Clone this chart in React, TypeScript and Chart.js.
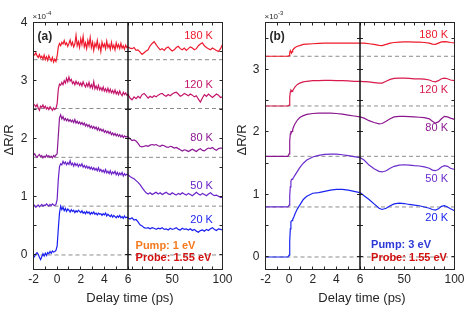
import React, { useEffect, useRef } from 'react';
import { Chart, registerables } from 'chart.js';

Chart.register(...registerables);

const FONT = '"Liberation Sans", Arial, Helvetica, sans-serif';
const INK = '#262626';

// ---------- shared ----------
const temps = ['20 K', '50 K', '80 K', '120 K', '180 K'];
const colorsA = ['#1a1ff0', '#6a22c8', '#8c1896', '#c4156a', '#ee1a2e'];
const colorsB = ['#1a24f0', '#6a2ccc', '#8c1890', '#d81a4c', '#ee1a2a'];
const xLeftLabels = [-2, 0, 2, 4, 6];
const xRightLabels = [50, 100];
const xTitle = 'Delay time (ps)';
const yTitle = 'ΔR/R';

// ---------- panel (a): values in units of 1e-4 ----------
const tAL = [-2, -1.9, -1.8, -1.7, -1.6, -1.5, -1.4, -1.3, -1.2, -1.1, -1, -0.9, -0.8, -0.7, -0.6, -0.5, -0.4, -0.3, -0.2, -0.1,
  0, 0.1, 0.2, 0.3, 0.4, 0.5, 0.6, 0.7, 0.8, 0.9, 1, 1.1, 1.2, 1.3, 1.4, 1.5, 1.6, 1.7, 1.8, 1.9,
  2, 2.1, 2.2, 2.3, 2.4, 2.5, 2.6, 2.7, 2.8, 2.9, 3, 3.1, 3.2, 3.3, 3.4, 3.5, 3.6, 3.7, 3.8, 3.9,
  4, 4.1, 4.2, 4.3, 4.4, 4.5, 4.6, 4.7, 4.8, 4.9, 5, 5.1, 5.2, 5.3, 5.4, 5.5, 5.6, 5.7, 5.8, 5.9, 6];
const tAR = [6, 8, 10, 12, 14, 16, 18, 20, 22, 24, 26, 28, 30, 32, 34, 36, 38, 40, 42, 44, 46, 48, 50, 52,
  54, 56, 58, 60, 62, 64, 66, 68, 70, 72, 74, 76, 78, 80, 82, 84, 86, 88, 90, 92, 94, 96, 98, 100];

const a20L = [-0.05, -0.02, 0.02, 0.04, 0.01, -0.04, -0.08, -0.03, 0.02, -0.02, 0.03, -0.01, 0.04, 0.02, 0.06, 0.03, 0.07, 0.05, 0.06, 0.08,
  0.15, 0.45, 0.72, 0.84, 0.78, 0.82, 0.76, 0.80, 0.75, 0.79, 0.77, 0.74, 0.78, 0.75, 0.77, 0.73, 0.76, 0.74, 0.77, 0.75,
  0.73, 0.76, 0.72, 0.74, 0.71, 0.75, 0.72, 0.74, 0.70, 0.73, 0.71, 0.74, 0.70, 0.72, 0.69, 0.72, 0.70, 0.71, 0.68, 0.71,
  0.69, 0.72, 0.67, 0.70, 0.68, 0.66, 0.69, 0.65, 0.68, 0.66, 0.64, 0.67, 0.65, 0.68, 0.64, 0.66, 0.63, 0.67, 0.64, 0.65, 0.64];
const a20R = [0.64, 0.62, 0.64, 0.60, 0.61, 0.57, 0.52, 0.50, 0.47, 0.46, 0.47, 0.45, 0.47, 0.46, 0.44, 0.46, 0.45, 0.47, 0.44, 0.45,
  0.43, 0.46, 0.44, 0.45, 0.47, 0.44, 0.43, 0.46, 0.44, 0.45, 0.43, 0.45, 0.42, 0.44, 0.41, 0.39, 0.42, 0.43, 0.41, 0.44,
  0.42, 0.45, 0.47, 0.44, 0.42, 0.45, 0.44, 0.43];

const a50L = [0.87, 0.85, 0.82, 0.84, 0.86, 0.83, 0.85, 0.87, 0.84, 0.86, 0.85, 0.88, 0.86, 0.84, 0.87, 0.85, 0.88, 0.86, 0.85, 0.87,
  0.95, 1.30, 1.52, 1.57, 1.55, 1.61, 1.57, 1.60, 1.55, 1.59, 1.56, 1.62, 1.55, 1.58, 1.53, 1.58, 1.54, 1.57, 1.52, 1.56,
  1.53, 1.57, 1.51, 1.54, 1.50, 1.53, 1.49, 1.52, 1.48, 1.51, 1.47, 1.50, 1.46, 1.49, 1.45, 1.50, 1.44, 1.47, 1.43, 1.46,
  1.42, 1.47, 1.41, 1.44, 1.40, 1.45, 1.39, 1.43, 1.40, 1.44, 1.38, 1.42, 1.37, 1.41, 1.38, 1.42, 1.36, 1.40, 1.37, 1.39, 1.38];
const a50R = [1.38, 1.35, 1.33, 1.31, 1.28, 1.25, 1.21, 1.16, 1.11, 1.07, 1.05, 1.07, 1.04, 1.06, 1.08, 1.05, 1.07, 1.04, 1.06, 1.08,
  1.05, 1.04, 1.07, 1.05, 1.03, 1.06, 1.04, 1.07, 1.05, 1.03, 1.06, 1.04, 1.02, 1.05, 1.08, 1.05, 1.03, 1.06, 1.04, 1.02,
  1.05, 1.07, 1.04, 1.02, 1.03, 1.01, 0.99, 0.99];

const a80L = [1.72, 1.74, 1.70, 1.68, 1.71, 1.73, 1.69, 1.71, 1.67, 1.70, 1.68, 1.72, 1.69, 1.71, 1.68, 1.70, 1.67, 1.71, 1.69, 1.72,
  1.74, 2.05, 2.36, 2.41, 2.34, 2.38, 2.32, 2.35, 2.31, 2.34, 2.30, 2.33, 2.29, 2.32, 2.28, 2.33, 2.27, 2.30, 2.26, 2.29,
  2.25, 2.28, 2.24, 2.27, 2.22, 2.25, 2.21, 2.24, 2.19, 2.22, 2.18, 2.21, 2.17, 2.20, 2.15, 2.19, 2.14, 2.17, 2.13, 2.16,
  2.11, 2.14, 2.10, 2.13, 2.09, 2.12, 2.07, 2.10, 2.06, 2.09, 2.05, 2.08, 2.04, 2.07, 2.03, 2.06, 2.02, 2.05, 2.03, 2.04, 2.03];
const a80R = [2.03, 2.00, 1.97, 1.98, 1.96, 1.92, 1.87, 1.86, 1.87, 1.88, 1.87, 1.89, 1.90, 1.89, 1.90, 1.88, 1.87, 1.89, 1.88, 1.86,
  1.85, 1.87, 1.86, 1.84, 1.85, 1.83, 1.81, 1.79, 1.81, 1.80, 1.78, 1.80, 1.82, 1.80, 1.78, 1.81, 1.83, 1.80, 1.79, 1.82,
  1.84, 1.83, 1.85, 1.82, 1.80, 1.83, 1.84, 1.84];

const a120L = [2.60, 2.58, 2.55, 2.59, 2.53, 2.49, 2.56, 2.54, 2.58, 2.53, 2.56, 2.51, 2.54, 2.50, 2.55, 2.52, 2.49, 2.53, 2.50, 2.52,
  2.60, 2.85, 2.94, 2.92, 2.97, 2.93, 3.00, 2.96, 3.04, 2.98, 3.06, 2.99, 3.02, 2.95, 2.98, 2.93, 2.99, 2.94, 2.97, 2.92,
  2.96, 2.91, 2.98, 2.93, 2.89, 2.95, 2.90, 2.97, 2.88, 2.93, 2.87, 2.98, 2.86, 2.91, 2.85, 2.92, 2.84, 2.88, 2.83, 2.89,
  2.82, 2.86, 2.81, 2.87, 2.80, 2.85, 2.79, 2.83, 2.78, 2.84, 2.77, 2.81, 2.76, 2.82, 2.77, 2.74, 2.80, 2.76, 2.79, 2.75, 2.77];
const a120R = [2.77, 2.70, 2.67, 2.72, 2.69, 2.73, 2.70, 2.76, 2.78, 2.74, 2.70, 2.73, 2.71, 2.74, 2.72, 2.75, 2.77, 2.78, 2.75, 2.73,
  2.76, 2.74, 2.77, 2.79, 2.80, 2.77, 2.73, 2.75, 2.78, 2.76, 2.74, 2.77, 2.75, 2.72, 2.74, 2.68, 2.63, 2.70, 2.76, 2.73,
  2.77, 2.74, 2.71, 2.74, 2.77, 2.75, 2.71, 2.72];

const a180L = [3.46, 3.44, 3.48, 3.43, 3.40, 3.45, 3.39, 3.42, 3.37, 3.44, 3.36, 3.41, 3.35, 3.43, 3.38, 3.34, 3.40, 3.32, 3.37, 3.33,
  3.42, 3.58, 3.64, 3.60, 3.66, 3.63, 3.69, 3.62, 3.65, 3.59, 3.64, 3.70, 3.61, 3.66, 3.58, 3.63, 3.78, 3.60, 3.67, 3.57,
  3.72, 3.62, 3.76, 3.58, 3.65, 3.55, 3.69, 3.60, 3.74, 3.57, 3.66, 3.52, 3.64, 3.58, 3.69, 3.55, 3.62, 3.50, 3.66, 3.58,
  3.63, 3.55, 3.68, 3.57, 3.62, 3.54, 3.66, 3.56, 3.61, 3.53, 3.65, 3.57, 3.62, 3.55, 3.64, 3.56, 3.60, 3.54, 3.61, 3.57, 3.59];
const a180R = [3.58, 3.56, 3.55, 3.57, 3.52, 3.53, 3.49, 3.45, 3.48, 3.51, 3.53, 3.60, 3.64, 3.67, 3.62, 3.57, 3.53, 3.55, 3.52, 3.56,
  3.58, 3.54, 3.51, 3.53, 3.57, 3.59, 3.55, 3.53, 3.56, 3.52, 3.55, 3.58, 3.56, 3.53, 3.55, 3.60, 3.63, 3.65, 3.60, 3.57,
  3.55, 3.53, 3.56, 3.54, 3.52, 3.50, 3.55, 3.62];

const baselinesA = [0, 0.84, 1.68, 2.52, 3.36];
const labelYA = [0.60, 1.19, 2.01, 2.93, 3.77];
const yLabelsA = [0, 1, 2, 3, 4];

// ---------- panel (b): values in units of 1e-3 ----------
const tBL = [-2, -1, -0.5, -0.1, 0, 0.05, 0.1, 0.15, 0.2, 0.25, 0.3, 0.4, 0.5, 0.7, 0.9, 1.2, 1.5, 2, 2.5, 3, 3.5, 4, 4.5, 5, 5.5, 6];
const tBR = [6, 10, 15, 20, 25, 28, 32, 36, 40, 45, 50, 55, 60, 65, 70, 75, 78, 81, 84, 87, 90, 93, 96, 100];

const b20L = [0, 0, 0, 0, 0.03, 0.25, 0.45, 0.56, 0.58, 0.58, 0.60, 0.64, 0.69, 0.77, 0.83, 0.92, 0.97, 1.02, 1.03, 1.05, 1.07, 1.08, 1.08, 1.07, 1.05, 1.03];
const b20R = [1.03, 0.98, 0.92, 0.85, 0.78, 0.76, 0.78, 0.82, 0.85, 0.86, 0.855, 0.84, 0.83, 0.82, 0.80, 0.78, 0.76, 0.75, 0.77, 0.81, 0.82, 0.80, 0.77, 0.74];
const b50L = [0.8, 0.8, 0.8, 0.8, 0.83, 0.98, 1.12, 1.21, 1.24, 1.24, 1.25, 1.28, 1.31, 1.37, 1.43, 1.50, 1.55, 1.60, 1.625, 1.64, 1.645, 1.645, 1.635, 1.62, 1.605, 1.59];
const b50R = [1.59, 1.55, 1.47, 1.41, 1.37, 1.36, 1.38, 1.42, 1.45, 1.47, 1.475, 1.47, 1.46, 1.455, 1.44, 1.42, 1.39, 1.38, 1.40, 1.44, 1.46, 1.45, 1.42, 1.40];
const b80L = [1.61, 1.61, 1.61, 1.61, 1.65, 1.85, 1.97, 2.0, 1.99, 2.01, 2.04, 2.09, 2.13, 2.19, 2.23, 2.26, 2.28, 2.295, 2.30, 2.30, 2.30, 2.295, 2.285, 2.27, 2.255, 2.24];
const b80R = [2.24, 2.22, 2.18, 2.15, 2.13, 2.135, 2.17, 2.21, 2.24, 2.25, 2.25, 2.245, 2.24, 2.235, 2.23, 2.21, 2.17, 2.14, 2.16, 2.21, 2.25, 2.24, 2.22, 2.20];
const b120L = [2.415, 2.415, 2.415, 2.415, 2.43, 2.55, 2.64, 2.67, 2.66, 2.65, 2.66, 2.69, 2.72, 2.76, 2.78, 2.80, 2.81, 2.82, 2.82, 2.825, 2.825, 2.82, 2.82, 2.815, 2.81, 2.81];
const b120R = [2.81, 2.805, 2.80, 2.79, 2.78, 2.78, 2.81, 2.84, 2.855, 2.86, 2.86, 2.855, 2.85, 2.85, 2.845, 2.83, 2.81, 2.80, 2.82, 2.85, 2.86, 2.85, 2.83, 2.82];
const b180L = [3.21, 3.21, 3.21, 3.21, 3.22, 3.27, 3.30, 3.28, 3.26, 3.28, 3.31, 3.33, 3.35, 3.37, 3.38, 3.40, 3.405, 3.41, 3.415, 3.42, 3.42, 3.42, 3.42, 3.42, 3.42, 3.42];
const b180R = [3.42, 3.42, 3.41, 3.40, 3.385, 3.38, 3.40, 3.42, 3.43, 3.435, 3.44, 3.44, 3.435, 3.435, 3.43, 3.42, 3.405, 3.40, 3.42, 3.44, 3.445, 3.44, 3.43, 3.425];

const baselinesB = [0, 0.8, 1.61, 2.415, 3.21];
const labelYB = [0.62, 1.25, 2.06, 2.67, 3.55];
const yLabelsB = [0, 1, 2, 3];

type Panel = {
  letter: string;
  exponent: string;
  tL: number[]; tR: number[];
  seriesL: number[][]; seriesR: number[][];
  baselines: number[];
  labelY: number[];
  labelX: number;
  colors: string[];
  yMin: number; yMax: number; yLabels: number[];
  yAxisWidth: number; padRight: number;
  pump: string; pumpColor: string; probe: string; probeColor: string;
  noteX: number; pumpY: number; probeY: number;
  yTitleX: number;
};

const panelA: Panel = {
  letter: '(a)', exponent: '-4',
  tL: tAL, tR: tAR,
  seriesL: [a20L, a50L, a80L, a120L, a180L],
  seriesR: [a20R, a50R, a80R, a120R, a180R],
  baselines: baselinesA, labelY: labelYA, labelX: 90.5,
  colors: colorsA,
  yMin: -0.25, yMax: 4, yLabels: yLabelsA,
  yAxisWidth: 33.5, padRight: 12.5,
  pump: 'Pump: 1 eV', pumpColor: '#f57a1e', probe: 'Probe: 1.55 eV', probeColor: '#d20f0f',
  noteX: 13.5, pumpY: 0.15, probeY: -0.055,
  yTitleX: 9,
};

const panelB: Panel = {
  letter: '(b)', exponent: '-3',
  tL: tBL, tR: tBR,
  seriesL: [b20L, b50L, b80L, b120L, b180L],
  seriesR: [b20R, b50R, b80R, b120R, b180R],
  baselines: baselinesB, labelY: labelYB, labelX: 93.5,
  colors: colorsB,
  yMin: -0.2, yMax: 3.75, yLabels: yLabelsB,
  yAxisWidth: 30.5, padRight: 15.5,
  pump: 'Pump: 3 eV', pumpColor: '#2b38d6', probe: 'Probe: 1.55 eV', probeColor: '#d20f0f',
  noteX: 17, pumpY: 0.19, probeY: -0.015,
  yTitleX: 7,
};

function decorPlugin(p: Panel) {
  return {
    id: 'decor' + p.letter,
    afterDatasetsDraw(chart: any) {
      const { ctx, chartArea: ca, scales } = chart;
      const xL = scales.xL, xR = scales.xR, y = scales.y;
      const TL = 3;
      const snap = (v: number) => Math.round(v - 0.5) + 0.5;
      ctx.save();
      const divX = xL.getPixelForValue(p.tL[p.tL.length - 1]);
      // inward tick marks
      ctx.strokeStyle = INK;
      ctx.lineWidth = 1;
      ctx.beginPath();
      for (const s of [xL, xR]) {
        for (const t of s.ticks) {
          const px = snap(s.getPixelForValue(t.value));
          if (px <= ca.left + 1 || px >= ca.right - 1) continue;
          ctx.moveTo(px, ca.bottom); ctx.lineTo(px, ca.bottom - TL);
          ctx.moveTo(px, ca.top); ctx.lineTo(px, ca.top + TL);
        }
      }
      for (const t of y.ticks) {
        const py = snap(y.getPixelForValue(t.value));
        if (py <= ca.top + 1 || py >= ca.bottom - 1) continue;
        ctx.moveTo(ca.left, py); ctx.lineTo(ca.left + TL, py);
        ctx.moveTo(ca.right, py); ctx.lineTo(ca.right - TL, py);
        ctx.moveTo(divX - TL, py); ctx.lineTo(divX + TL, py);
      }
      ctx.stroke();
      // frame
      ctx.strokeRect(ca.left, ca.top, ca.right - ca.left, ca.bottom - ca.top);
      // divider
      ctx.strokeStyle = '#111';
      ctx.lineWidth = 1.5;
      ctx.beginPath();
      ctx.moveTo(divX, ca.top); ctx.lineTo(divX, ca.bottom);
      ctx.stroke();

      // panel letter
      ctx.fillStyle = INK;
      ctx.font = `bold 12px ${FONT}`;
      ctx.textAlign = 'left';
      ctx.textBaseline = 'middle';
      ctx.fillText(p.letter, ca.left + 4, ca.top + 14);
      // exponent
      ctx.font = `8px ${FONT}`;
      ctx.textBaseline = 'alphabetic';
      ctx.fillText('×10', ca.left - 1, ca.top - 3.5);
      const w = ctx.measureText('×10').width;
      ctx.font = `6px ${FONT}`;
      ctx.fillText(p.exponent, ca.left - 1 + w, ca.top - 7.5);

      // temperature labels
      ctx.font = `11px ${FONT}`;
      ctx.textAlign = 'right';
      ctx.textBaseline = 'middle';
      temps.forEach((t, i) => {
        ctx.fillStyle = p.colors[i];
        ctx.fillText(t, xR.getPixelForValue(p.labelX), y.getPixelForValue(p.labelY[i]));
      });
      // pump / probe
      ctx.font = `bold 11px ${FONT}`;
      ctx.textAlign = 'left';
      ctx.fillStyle = p.pumpColor;
      ctx.fillText(p.pump, xR.getPixelForValue(p.noteX), y.getPixelForValue(p.pumpY));
      ctx.fillStyle = p.probeColor;
      ctx.fillText(p.probe, xR.getPixelForValue(p.noteX), y.getPixelForValue(p.probeY));

      // axis titles
      ctx.fillStyle = INK;
      ctx.font = `13px ${FONT}`;
      ctx.textAlign = 'center';
      ctx.textBaseline = 'middle';
      ctx.fillText(xTitle, (ca.left + ca.right) / 2 + 2, 298);
      ctx.translate(p.yTitleX, 140);
      ctx.rotate(-Math.PI / 2);
      ctx.fillText(yTitle, 0, 0);
      ctx.restore();
    },
  };
}

function buildConfig(p: Panel): any {
  const datasets: any[] = [];
  p.seriesL.forEach((vals, i) => {
    const common = { borderColor: p.colors[i], borderWidth: 1.2, pointRadius: 0, fill: false, tension: 0, order: 1, yAxisID: 'y' };
    datasets.push({ ...common, xAxisID: 'xL', data: p.tL.map((x, k) => ({ x, y: vals[k] })) });
    datasets.push({ ...common, xAxisID: 'xR', data: p.tR.map((x, k) => ({ x, y: p.seriesR[i][k] })) });
  });
  p.baselines.forEach((b) => {
    const common = { borderColor: '#8c8c8c', borderWidth: 1, borderDash: [4, 3], pointRadius: 0, fill: false, order: 2, yAxisID: 'y' };
    datasets.push({ ...common, xAxisID: 'xL', data: [{ x: p.tL[0], y: b }, { x: p.tL[p.tL.length - 1], y: b }] });
    datasets.push({ ...common, xAxisID: 'xR', data: [{ x: p.tR[0], y: b }, { x: p.tR[p.tR.length - 1], y: b }] });
  });
  const tickFont = { family: FONT, size: 12 };
  const xFit = (s: any) => { s.height = 43.5; s.paddingLeft = 0; s.paddingRight = 0; };
  return {
    type: 'line',
    data: { datasets },
    options: {
      animation: false,
      responsive: false,
      devicePixelRatio: 1,
      layout: { padding: { top: 22.5, right: p.padRight, bottom: 0, left: 0 } },
      plugins: { legend: { display: false }, tooltip: { enabled: false } },
      scales: {
        xL: {
          type: 'linear', position: 'bottom', stack: 'x', stackWeight: 1,
          min: p.tL[0], max: p.tL[p.tL.length - 1],
          grid: { display: false, drawTicks: false }, border: { display: false },
          ticks: {
            stepSize: 1, autoSkip: false, maxRotation: 0, includeBounds: false, padding: 3,
            color: INK, font: tickFont,
            callback: (v: number) => (xLeftLabels.includes(v) ? String(v) : ''),
          },
          afterFit: xFit,
        },
        xR: {
          type: 'linear', position: 'bottom', stack: 'x', stackWeight: 1,
          min: p.tR[0], max: p.tR[p.tR.length - 1],
          grid: { display: false, drawTicks: false }, border: { display: false },
          ticks: {
            stepSize: 10, autoSkip: false, maxRotation: 0, includeBounds: false, padding: 3,
            color: INK, font: tickFont,
            callback: (v: number) => (xRightLabels.includes(v) ? String(v) : ''),
          },
          afterFit: xFit,
        },
        y: {
          type: 'linear', position: 'left',
          min: p.yMin, max: p.yMax,
          grid: { display: false, drawTicks: false }, border: { display: false },
          ticks: {
            stepSize: 0.5, autoSkip: false, includeBounds: false, padding: 6,
            color: INK, font: tickFont,
            callback: (v: number) => {
              const r = Math.round(v);
              return Math.abs(v - r) < 1e-9 && p.yLabels.includes(r) ? String(r) : '';
            },
          },
          afterFit: (s: any) => { s.width = p.yAxisWidth; s.paddingTop = 0; s.paddingBottom = 0; },
        },
      },
    },
    plugins: [decorPlugin(p)],
  };
}

function PanelChart({ panel, left }: { panel: Panel; left: number }) {
  const ref = useRef<HTMLCanvasElement | null>(null);
  useEffect(() => {
    if (!ref.current) return;
    const chart = new Chart(ref.current, buildConfig(panel));
    return () => chart.destroy();
  }, [panel]);
  return (
    <canvas
      ref={ref}
      width={235}
      height={313}
      style={{ position: 'absolute', left, top: 0, width: 235, height: 313 }}
    />
  );
}

export default function App() {
  return (
    <div style={{ position: 'absolute', left: 0, top: 0, width: 470, height: 313, background: '#fff' }}>
      <PanelChart panel={panelA} left={0} />
      <PanelChart panel={panelB} left={235} />
    </div>
  );
}
